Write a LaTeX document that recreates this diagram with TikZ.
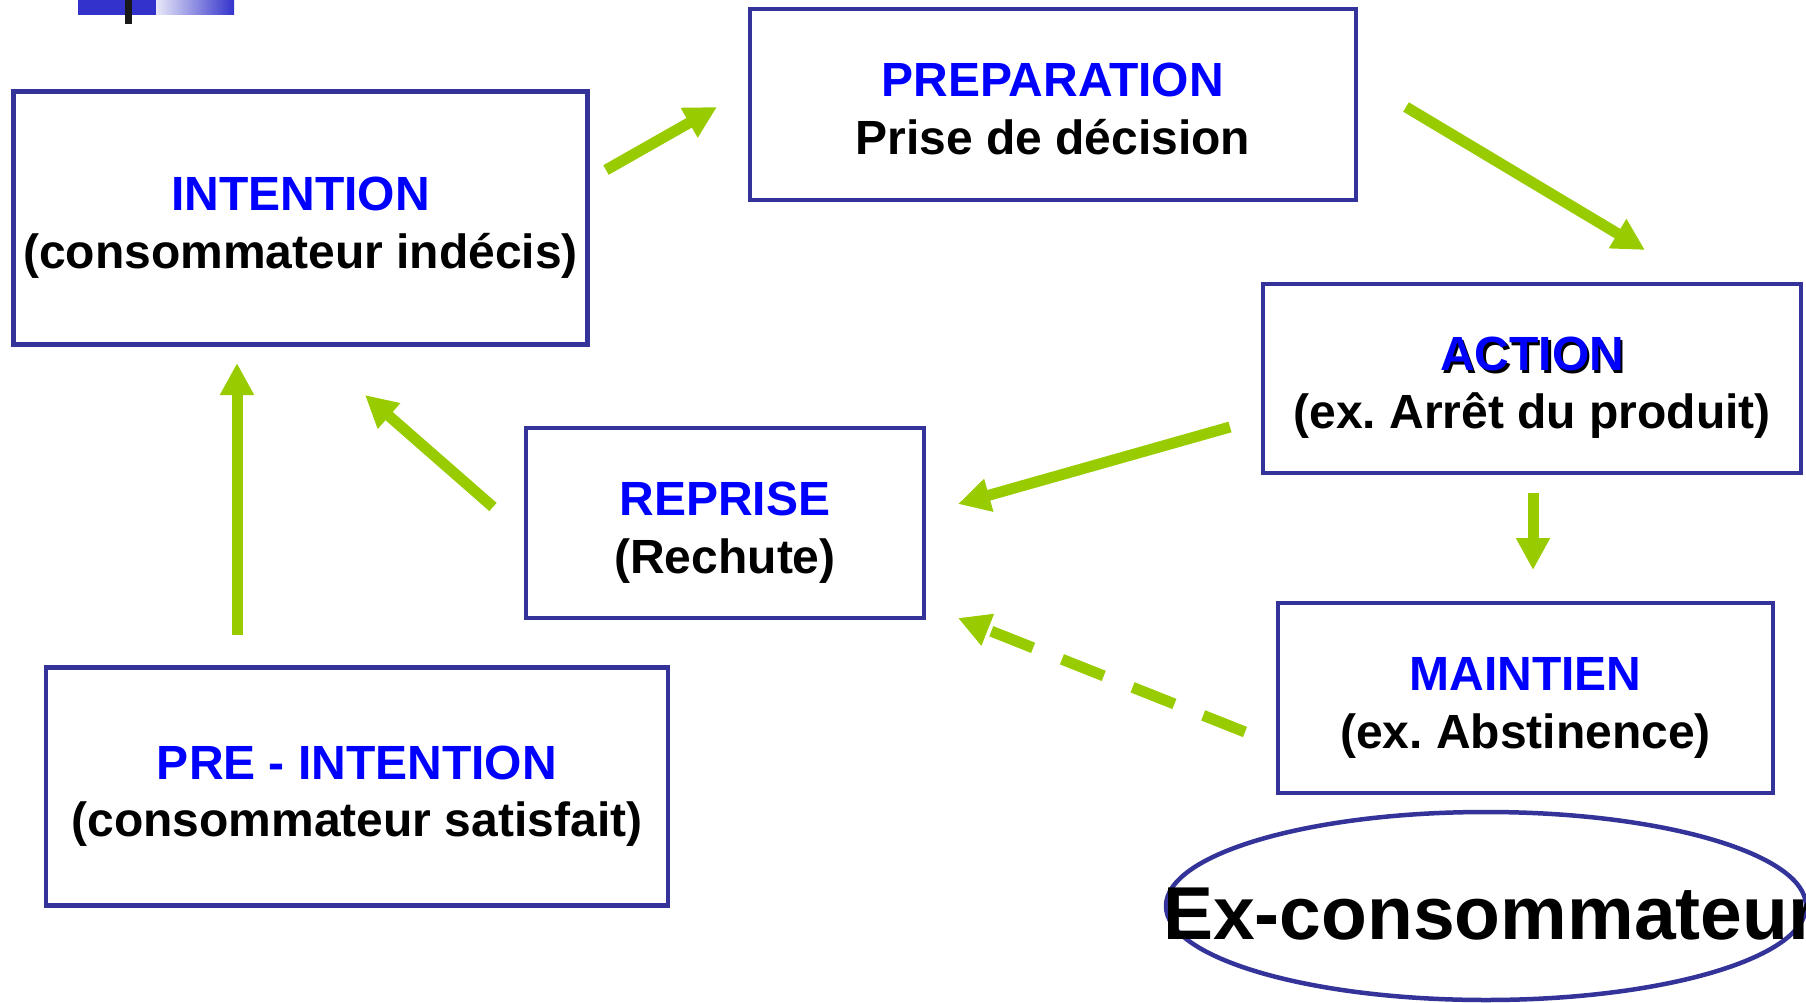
\documentclass[tikz,border=0pt]{standalone}
\usepackage{fontspec}
\setmainfont{Liberation Sans}
\usetikzlibrary{arrows.meta}
\definecolor{frameblue}{RGB}{51,51,153}
\definecolor{titleblue}{RGB}{0,0,255}
\definecolor{arrowgreen}{RGB}{153,204,0}
\definecolor{barblue}{RGB}{51,51,204}
\definecolor{barpale}{RGB}{232,232,248}
\newcommand\shadowtitle[1]{\makebox[0pt][l]{\hspace{2.5pt}\raisebox{-2.5pt}{\color{black}#1}}\textcolor{titleblue}{#1}}
\frenchspacing
\begin{document}
\begin{tikzpicture}[x=1pt,y=-1pt,
  stagebox/.style={draw=frameblue, line width=4.5pt, fill=white, align=center,
    inner sep=0pt, text height=100pt, text depth=0pt,
    font=\fontsize{48}{57.6}\selectfont\bfseries},
  flow/.style={draw=arrowgreen, line width=11pt, line cap=butt,
    -{Triangle[length=32pt,width=32pt]}},
  dashflow/.style={flow, dash pattern=on 45pt off 31pt}]
\useasboundingbox (0,0) rectangle (1806,1003);
\clip (0,0) rectangle (1806,1003);

% corner ornament
\fill[barblue] (78,0) rectangle (156,14.7);
\shade[left color=barpale, right color=barblue] (156,0) rectangle (234,14.7);
\fill[black!90] (125,0) rectangle (132,24);

% stages
\node[stagebox, minimum width=574pt, minimum height=253pt] (intention) at (300.6,218)
  {\textcolor{titleblue}{INTENTION}\\(consommateur indécis)};
\node[stagebox, minimum width=606pt, minimum height=191pt] (preparation) at (1052.8,104.3)
  {\textcolor{titleblue}{PREPARATION}\\Prise de décision};
\node[stagebox, minimum width=538pt, minimum height=189pt] (action) at (1532,378.5)
  {\shadowtitle{ACTION}\\(ex. Arrêt du produit)};
\node[stagebox, minimum width=398pt, minimum height=190pt] (reprise) at (725,523)
  {\textcolor{titleblue}{REPRISE}\\(Rechute)};
\node[stagebox, minimum width=622pt, minimum height=238pt] (preintention) at (357,786.7)
  {\textcolor{titleblue}{PRE - INTENTION}\\(consommateur satisfait)};
\node[stagebox, minimum width=495pt, minimum height=190pt] (maintien) at (1525.5,698)
  {\textcolor{titleblue}{MAINTIEN}\\(ex. Abstinence)};

% final state
\draw[frameblue, line width=4.5pt] (1486,906) ellipse [x radius=320, y radius=94];
\node[anchor=base west, inner sep=0pt, font=\fontsize{75}{80}\selectfont\bfseries]
  (excons) at (1163,939) {Ex-consommateur};

% arrow end points
\coordinate (a1s) at (606,170);  \coordinate (a1e) at (717,107);
\coordinate (a2s) at (1406,107); \coordinate (a2e) at (1645,250);
\coordinate (a3s) at (1230,427); \coordinate (a3e) at (958,504);
\coordinate (a4s) at (1533,493); \coordinate (a4e) at (1533,570);
\coordinate (a5s) at (1245,732); \coordinate (a5e) at (958,618);
\coordinate (a6s) at (493,507);  \coordinate (a6e) at (365,395);
\coordinate (a7s) at (237,635);  \coordinate (a7e) at (237,363);

% transitions
\draw[flow] (a1s) -- (a1e);
\draw[flow] (a2s) -- (a2e);
\draw[flow] (a3s) -- (a3e);
\draw[flow] (a4s) -- (a4e);
\draw[dashflow] (a5s) -- (a5e);
\draw[flow] (a6s) -- (a6e);
\draw[flow] (a7s) -- (a7e);
\end{tikzpicture}
\end{document}
